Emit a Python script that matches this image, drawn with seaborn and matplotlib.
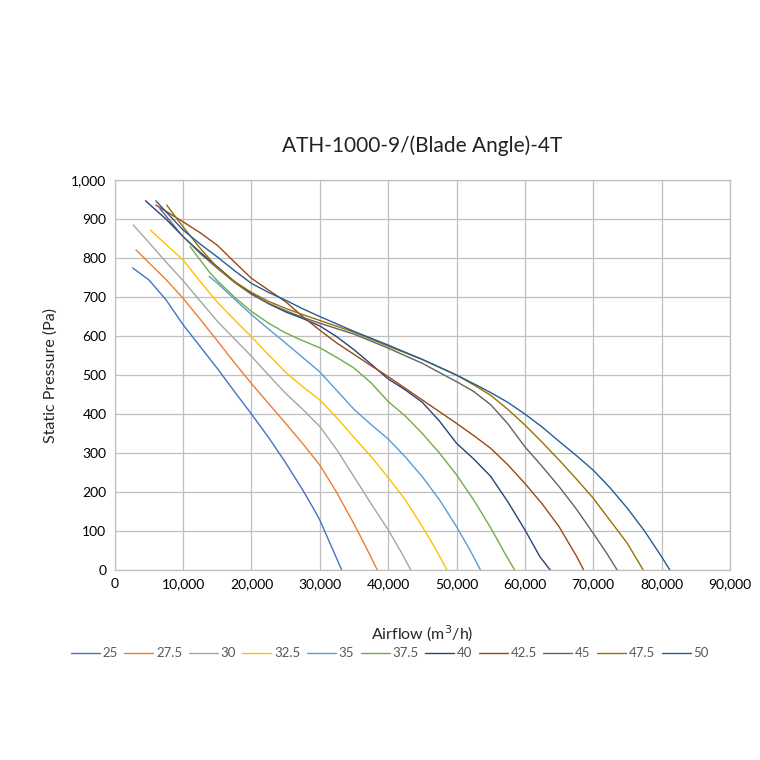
import pandas as pd
import numpy as np
import matplotlib
matplotlib.use('Agg')
import matplotlib.pyplot as plt
import seaborn as sns

# blade angle curves (airflow m3/h, static pressure Pa)
angles = ['25', '27.5', '30', '32.5', '35', '37.5', '40', '42.5', '45', '47.5', '50']

flow_25 = [2600, 5000, 7500, 10000, 12500, 15000, 17500, 20000, 22500, 25000, 27500, 29000, 30000, 31700, 33200]
pres_25 = [775, 744, 693, 629, 573, 517, 458, 400, 340, 275, 205, 160, 128, 60, 0]

flow_275 = [3100, 5000, 7500, 10000, 12500, 15000, 17500, 20000, 22500, 25000, 27500, 30000, 32500, 35000, 37000, 38400]
pres_275 = [821, 788, 745, 697, 643, 588, 532, 478, 427, 376, 324, 269, 198, 118, 50, 0]

flow_30 = [2700, 5000, 7500, 10000, 12500, 15000, 17500, 20000, 22500, 25000, 27500, 30000, 32500, 35000, 37500, 40000, 42000, 43300]
pres_30 = [885, 840, 790, 742, 690, 638, 593, 548, 500, 453, 412, 368, 308, 239, 170, 103, 43, 0]

flow_325 = [5200, 7500, 10000, 12500, 15000, 17500, 20000, 22500, 25000, 27500, 30000, 32500, 35000, 37500, 40000, 42500, 45000, 47000, 48600]
pres_325 = [872, 835, 795, 740, 687, 642, 598, 552, 507, 470, 436, 390, 340, 291, 237, 180, 111, 52, 0]

flow_35 = [13800, 15000, 17500, 20000, 22500, 25000, 27500, 30000, 32500, 35000, 37500, 40000, 42500, 45000, 47500, 50000, 52000, 53500]
pres_35 = [753, 736, 695, 655, 618, 582, 545, 508, 460, 412, 373, 336, 290, 239, 180, 111, 50, 0]

flow_375 = [11000, 12500, 13800, 15000, 17500, 20000, 22500, 25000, 27500, 30000, 32500, 35000, 37500, 40000, 42500, 45000, 47500, 50000, 52500, 55000, 57000, 58500]
pres_375 = [830, 795, 765, 742, 700, 663, 633, 608, 588, 570, 545, 518, 480, 432, 395, 350, 300, 244, 180, 108, 45, 0]

flow_40 = [4500, 7500, 10000, 12500, 15000, 17500, 20000, 22500, 25000, 27500, 30000, 32500, 35000, 37500, 40000, 42500, 45000, 47500, 50000, 52500, 55000, 57500, 60000, 62200, 63700]
pres_40 = [947, 900, 855, 815, 778, 740, 709, 683, 662, 645, 626, 598, 565, 528, 490, 462, 430, 382, 325, 285, 240, 175, 103, 34, 0]

flow_425 = [6000, 10000, 12500, 15000, 17500, 20000, 22500, 25000, 27500, 30000, 32500, 35000, 37500, 40000, 42500, 45000, 47500, 50000, 52500, 55000, 57500, 60000, 62500, 65000, 67600, 68600]
pres_425 = [936, 893, 865, 833, 790, 748, 718, 688, 650, 615, 582, 553, 524, 496, 466, 436, 406, 376, 345, 312, 270, 222, 170, 111, 34, 0]

flow_45 = [6600, 10000, 12500, 15000, 17500, 20000, 22500, 25000, 27500, 30000, 35000, 40000, 45000, 50000, 52500, 55000, 57500, 60000, 62500, 65000, 67500, 70000, 72000, 73500]
pres_45 = [927, 855, 812, 774, 738, 707, 684, 665, 648, 633, 605, 569, 530, 483, 458, 424, 375, 316, 266, 214, 157, 94, 42, 0]

flow_475 = [7600, 10000, 12500, 15000, 17500, 20000, 22500, 25000, 27500, 30000, 35000, 40000, 45000, 50000, 52500, 55000, 57500, 60000, 62500, 65000, 67500, 70000, 72500, 75000, 77300]
pres_475 = [936, 880, 825, 776, 740, 712, 689, 671, 655, 640, 610, 574, 540, 500, 475, 448, 412, 372, 328, 282, 234, 184, 126, 68, 0]

flow_50 = [6000, 10000, 12500, 15000, 17500, 20000, 22500, 25000, 27500, 30000, 35000, 40000, 45000, 50000, 52500, 55000, 57500, 60000, 62500, 65000, 67500, 70000, 72500, 75000, 77500, 80000, 81200]
pres_50 = [947, 872, 836, 803, 768, 735, 712, 692, 670, 650, 612, 577, 540, 500, 478, 455, 430, 400, 367, 330, 294, 256, 210, 158, 100, 34, 0]

flows = [flow_25, flow_275, flow_30, flow_325, flow_35, flow_375, flow_40, flow_425, flow_45, flow_475, flow_50]
pressures = [pres_25, pres_275, pres_30, pres_325, pres_35, pres_375, pres_40, pres_425, pres_45, pres_475, pres_50]

colors = ['#4472C4', '#ED7D31', '#A5A5A5', '#FFC000', '#5B9BD5', '#70AD47',
          '#264478', '#9E480E', '#636363', '#997300', '#255E91']

rows = []
for a, fx, py in zip(angles, flows, pressures):
    for f, p in zip(fx, py):
        rows.append({'angle': a, 'flow': f, 'pressure': p})
df = pd.DataFrame(rows)

sns.set_style('white')
plt.rcParams['font.family'] = ['Lato', 'DejaVu Sans']

fig = plt.figure(figsize=(7.6, 7.6), dpi=100)
ax = fig.add_axes([0.151, 0.25, 0.8095, 0.513])

sns.lineplot(data=df, x='flow', y='pressure', hue='angle', hue_order=angles,
             palette=colors, sort=False, estimator=None, units='angle',
             linewidth=1.0, ax=ax, legend=False)

ax.set_xlim(0, 90000)
ax.set_ylim(0, 1000)
ax.set_xticks(np.arange(0, 90001, 10000))
ax.set_yticks(np.arange(0, 1001, 100))
ax.xaxis.set_major_formatter(matplotlib.ticker.StrMethodFormatter('{x:,.0f}'))
ax.yaxis.set_major_formatter(matplotlib.ticker.StrMethodFormatter('{x:,.0f}'))
ax.tick_params(axis='both', labelsize=10, colors='#000000', length=0, pad=6)
ax.grid(True, color='#BFBFBF', linewidth=0.9)
ax.set_axisbelow(True)
for s in ax.spines.values():
    s.set_color('#BFBFBF')
    s.set_linewidth(0.9)

ax.set_xlabel('Airflow (m$^3$/h)', fontsize=11.5, labelpad=24)
ax.set_ylabel('Static Pressure (Pa)', fontsize=11.5, labelpad=10)
ax.set_title('ATH-1000-9/(Blade Angle)-4T', fontsize=15, pad=20, color='#222222')

handles = [matplotlib.lines.Line2D([], [], color=c, linewidth=1.0) for c in colors]
leg = ax.legend(handles, angles, loc='upper center', bbox_to_anchor=(0.447, -0.175),
                ncol=11, frameon=False, fontsize=9.5, handlelength=2.2,
                handletextpad=0.2, columnspacing=0.5, borderpad=0.2)
for t in leg.get_texts():
    t.set_color('#595959')

plt.savefig('out.png', dpi=100)
